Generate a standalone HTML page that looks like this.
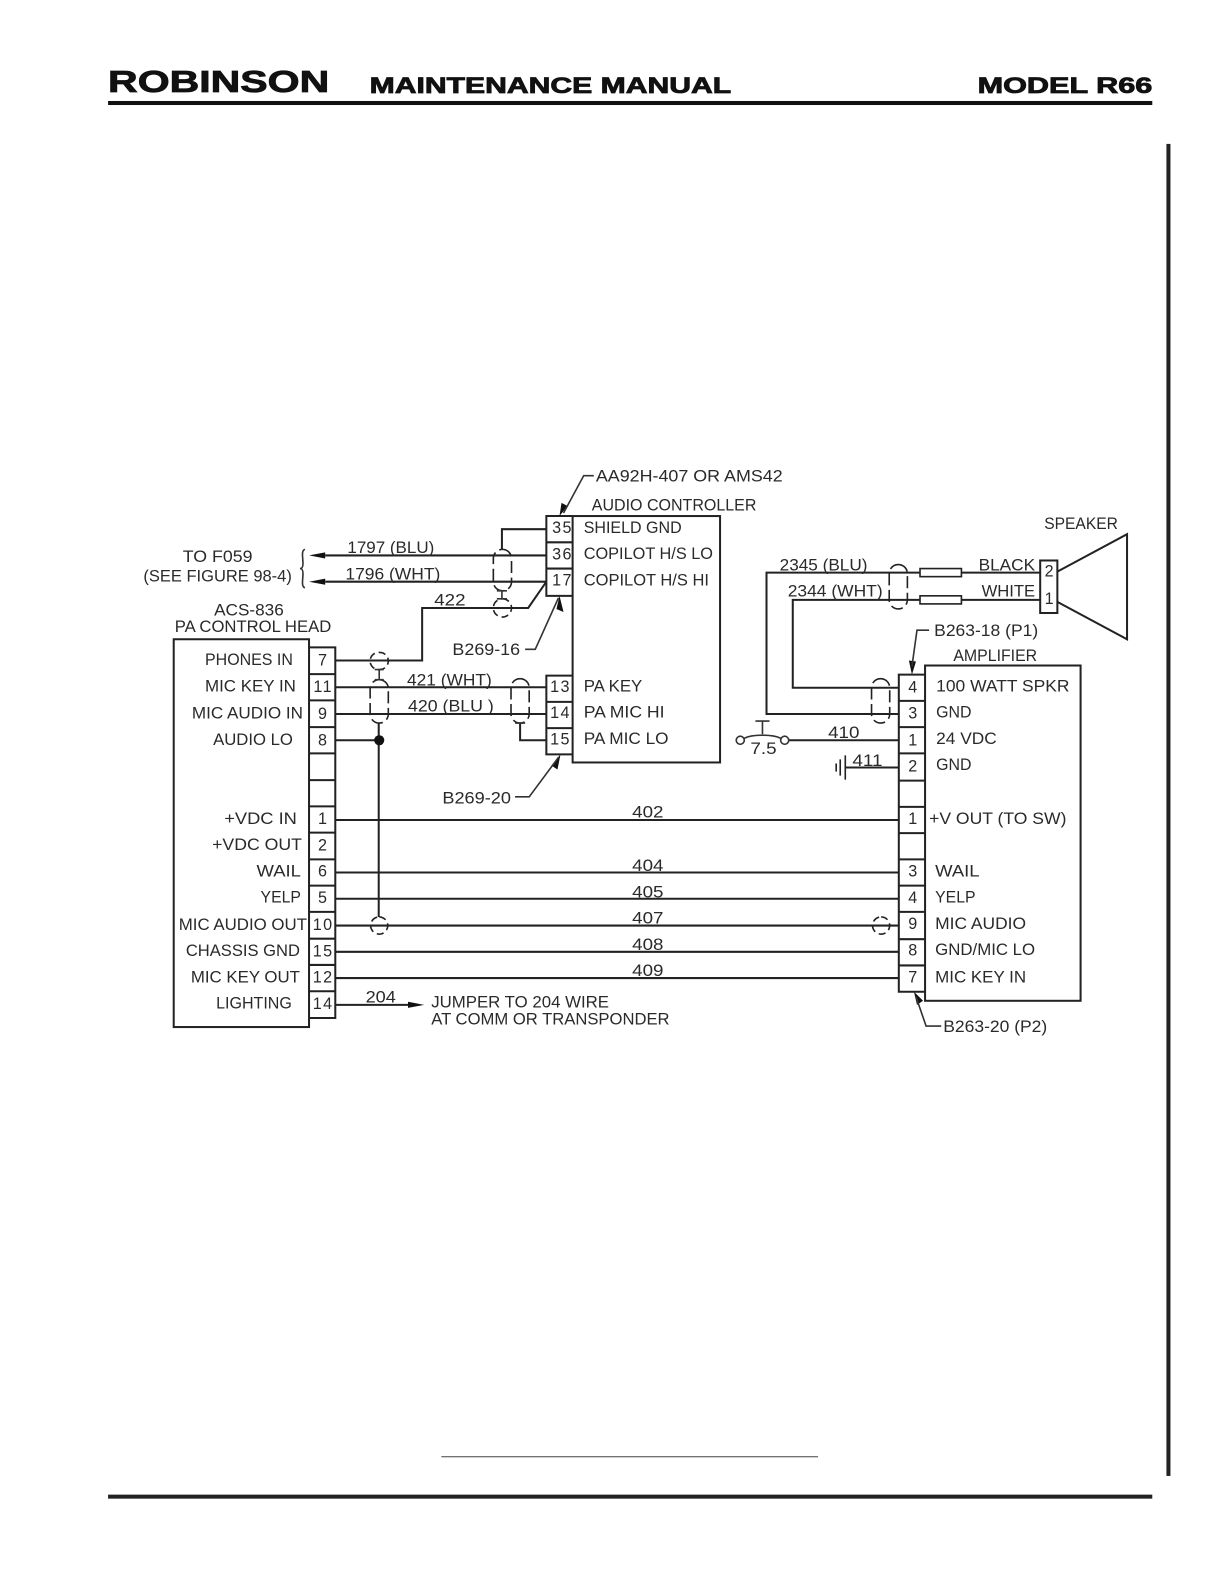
<!DOCTYPE html>
<html><head><meta charset="utf-8"><style>
html,body{margin:0;padding:0;background:#fff}
svg{display:block}
text{font-family:"Liberation Sans",sans-serif;font-size:16px;fill:#2a2a2a}
.h{font-weight:bold;fill:#111;stroke:#111;stroke-width:.8}
.n{text-anchor:middle;letter-spacing:1.4px;transform:translate(0,-.7px)}
.l{fill:none;stroke:#222;stroke-width:2}
.t{fill:none;stroke:#333;stroke-width:1.6}
.d{fill:none;stroke:#222;stroke-width:1.6;stroke-dasharray:12 4.5}
</style></head><body>
<svg width="1224" height="1584" viewBox="0 0 1212 1568.5" xmlns="http://www.w3.org/2000/svg">
<rect width="1212" height="1568.5" fill="#fff"/>
<!-- Header / page furniture -->
<text class="h" x="107" y="91" style="font-size:30px" textLength="219" lengthAdjust="spacingAndGlyphs">ROBINSON</text>
<text class="h" x="366" y="92" style="font-size:22px" textLength="358" lengthAdjust="spacingAndGlyphs">MAINTENANCE MANUAL</text>
<text class="h" x="968" y="92" style="font-size:22px" textLength="173" lengthAdjust="spacingAndGlyphs">MODEL R66</text>
<rect x="107" y="100" width="1034" height="4" fill="#111"/>
<rect x="1155" y="142.5" width="4" height="1319" fill="#222"/>
<rect x="437" y="1442" width="373" height="1" fill="#444"/>
<rect x="107" y="1480" width="1034" height="4" fill="#222"/>

<!-- Boxes -->
<g class="l">
<rect x="172" y="633" width="134" height="384"/>
<rect x="567" y="511" width="146" height="244"/>
<rect x="916" y="659" width="154" height="332"/>
<path d="M306 641H332V1008H306"/>
<path d="M306 667.5H332M306 693.5H332M306 720H332M306 746H332M306 772.5H332M306 798.5H332M306 824.5H332M306 851H332M306 877H332M306 903H332M306 929.5H332M306 955.5H332M306 981.5H332"/>
<path d="M567 511H541V590H567M541 537H567M541 563H567"/>
<path d="M567 669H541V747H567M541 695H567M541 721H567"/>
<path d="M916 668H890V982H916"/>
<path d="M890 694H916M890 720H916M890 746H916M890 773H916M890 799H916M890 825H916M890 851H916M890 877H916M890 903H916M890 930H916M890 956H916"/>
<rect x="1030" y="555" width="17" height="52"/>
<path d="M1047 566L1116 529V633L1047 596"/>
</g>

<!-- Wires -->
<g class="l">
<path d="M541 524H497V544"/>
<path d="M322 550H541M322 576H541"/>
<path d="M332 654H418V602H523L541 576"/>
<path d="M332 680.5H541M332 707H541"/>
<path d="M332 733H375M375 716V908"/>
<path d="M515 716V733H541"/>
<path d="M332 812H890M332 864H890M332 890H890M332 916.5H890M332 942.5H890M332 968.5H890"/>
<path d="M332 995H406"/>
<path d="M890 707H759V567H911M952 567H1030"/>
<path d="M890 681H785V594H911M952 594H1030"/>
<path d="M781 733H890"/>
<path d="M837 760H890"/>
<path d="M837 748V772M832 752V768" stroke-width="1.6"/>
<path d="M828 756V764" stroke-width="1.6"/>
<rect x="911" y="563" width="41" height="8" stroke-width="1.6"/>
<rect x="911" y="590" width="41" height="8" stroke-width="1.6"/>
</g>
<circle cx="375.5" cy="733" r="5" fill="#111"/>

<!-- Shields -->
<g class="d">
<rect x="488.5" y="544" width="18" height="41" rx="9"/>
<rect x="488.5" y="593" width="18" height="18" rx="9" stroke-dasharray="7 4"/>
<rect x="366.5" y="646" width="18" height="17" rx="8.5" stroke-dasharray="7 4"/>
<rect x="366.5" y="673" width="18" height="43" rx="9"/>
<rect x="506" y="672" width="18" height="44" rx="9"/>
<rect x="880.5" y="559" width="18" height="44" rx="9"/>
<rect x="863" y="672" width="18" height="44" rx="9"/>
<rect x="367" y="908" width="17" height="17" rx="8.5" stroke-dasharray="7 4"/>
<rect x="864" y="908" width="17" height="17" rx="8.5" stroke-dasharray="7 4"/>
</g>
<path class="t" d="M497 585V593M492 585H502M492 593H502M375.5 663V673M371 663H380M371 673H380M510 716H520" />

<!-- Brace -->
<path class="t" d="M302 544C298 545 300 552 300 558C300 562 299 563 297 563C299 563 300 564 300 568C300 574 298 581 302 582"/>

<!-- Arrowheads -->
<g fill="#111">
<polygon points="306,550 322,547 322,553"/>
<polygon points="306,576 322,573 322,579"/>
<polygon points="420,995 404,992 404,998"/>
<polygon points="554,511 556,498 562,501"/>
<polygon points="554,590 551,603 558,606"/>
<polygon points="555,747 546,758 552,762"/>
<polygon points="903,668 900,654 907,655"/>
<polygon points="905,982 908,995 914,991"/>
</g>

<!-- Leaders -->
<g class="t">
<path d="M588 471H578L558 508"/>
<path d="M520 643H530L553 592"/>
<path d="M510 789H524L553 750"/>
<path d="M920 624H908L903 660"/>
<path d="M932 1016H917L907 987"/>
</g>

<!-- Breaker -->
<g class="t">
<circle cx="733" cy="733" r="4"/>
<circle cx="777" cy="733" r="4"/>
<path d="M737 731C745 727 765 727 773 731M755 714V727M748 714H762"/>
</g>

<!-- Text -->
<g transform="translate(0,.7)">
<text x="590" y="476" textLength="185" lengthAdjust="spacingAndGlyphs">AA92H-407 OR AMS42</text>
<text x="586" y="505" textLength="163" lengthAdjust="spacingAndGlyphs">AUDIO CONTROLLER</text>
<text x="578" y="527" textLength="97" lengthAdjust="spacingAndGlyphs">SHIELD GND</text>
<text x="578" y="553" textLength="128" lengthAdjust="spacingAndGlyphs">COPILOT H/S LO</text>
<text x="578" y="579" textLength="124" lengthAdjust="spacingAndGlyphs">COPILOT H/S HI</text>
<text x="578" y="684" textLength="58" lengthAdjust="spacingAndGlyphs">PA KEY</text>
<text x="578" y="710" textLength="80" lengthAdjust="spacingAndGlyphs">PA MIC HI</text>
<text x="578" y="736" textLength="84" lengthAdjust="spacingAndGlyphs">PA MIC LO</text>
<text x="181" y="556" textLength="69" lengthAdjust="spacingAndGlyphs">TO F059</text>
<text x="142" y="575" textLength="147" lengthAdjust="spacingAndGlyphs">(SEE FIGURE 98-4)</text>
<text x="344" y="547" textLength="86" lengthAdjust="spacingAndGlyphs">1797 (BLU)</text>
<text x="342" y="573" textLength="94" lengthAdjust="spacingAndGlyphs">1796 (WHT)</text>
<text x="430" y="599" textLength="31" lengthAdjust="spacingAndGlyphs">422</text>
<text x="212" y="609" textLength="69" lengthAdjust="spacingAndGlyphs">ACS-836</text>
<text x="173" y="625" textLength="155" lengthAdjust="spacingAndGlyphs">PA CONTROL HEAD</text>
<text x="448" y="648" textLength="67" lengthAdjust="spacingAndGlyphs">B269-16</text>
<text x="403" y="678" textLength="84" lengthAdjust="spacingAndGlyphs">421 (WHT)</text>
<text x="404" y="704" textLength="85" lengthAdjust="spacingAndGlyphs">420 (BLU )</text>
<text x="438" y="795" textLength="68" lengthAdjust="spacingAndGlyphs">B269-20</text>
<text x="203" y="658" textLength="87" lengthAdjust="spacingAndGlyphs">PHONES IN</text>
<text x="203" y="684" textLength="90" lengthAdjust="spacingAndGlyphs">MIC KEY IN</text>
<text x="190" y="711" textLength="110" lengthAdjust="spacingAndGlyphs">MIC AUDIO IN</text>
<text x="211" y="737" textLength="79" lengthAdjust="spacingAndGlyphs">AUDIO LO</text>
<text x="222" y="815" textLength="72" lengthAdjust="spacingAndGlyphs">+VDC IN</text>
<text x="210" y="841" textLength="89" lengthAdjust="spacingAndGlyphs">+VDC OUT</text>
<text x="254" y="867" textLength="44" lengthAdjust="spacingAndGlyphs">WAIL</text>
<text x="258" y="893" textLength="40" lengthAdjust="spacingAndGlyphs">YELP</text>
<text x="177" y="920" textLength="127" lengthAdjust="spacingAndGlyphs">MIC AUDIO OUT</text>
<text x="184" y="946" textLength="113" lengthAdjust="spacingAndGlyphs">CHASSIS GND</text>
<text x="189" y="972" textLength="108" lengthAdjust="spacingAndGlyphs">MIC KEY OUT</text>
<text x="214" y="998" textLength="75" lengthAdjust="spacingAndGlyphs">LIGHTING</text>

<text class="n" x="320" y="659">7</text>
<text class="n" x="320" y="685">11</text>
<text class="n" x="320" y="712">9</text>
<text class="n" x="320" y="738">8</text>
<text class="n" x="320" y="816">1</text>
<text class="n" x="320" y="842">2</text>
<text class="n" x="320" y="868">6</text>
<text class="n" x="320" y="894">5</text>
<text class="n" x="320" y="921">10</text>
<text class="n" x="320" y="947">15</text>
<text class="n" x="320" y="973">12</text>
<text class="n" x="320" y="999">14</text>

<text class="n" x="557" y="528">35</text>
<text class="n" x="557" y="554">36</text>
<text class="n" x="557" y="580">17</text>
<text class="n" x="555" y="685">13</text>
<text class="n" x="555" y="711">14</text>
<text class="n" x="555" y="737">15</text>

<text x="626" y="809" textLength="31" lengthAdjust="spacingAndGlyphs">402</text>
<text x="626" y="862" textLength="31" lengthAdjust="spacingAndGlyphs">404</text>
<text x="626" y="888" textLength="31" lengthAdjust="spacingAndGlyphs">405</text>
<text x="626" y="914" textLength="31" lengthAdjust="spacingAndGlyphs">407</text>
<text x="626" y="940" textLength="31" lengthAdjust="spacingAndGlyphs">408</text>
<text x="626" y="966" textLength="31" lengthAdjust="spacingAndGlyphs">409</text>
<text x="362" y="992" textLength="30" lengthAdjust="spacingAndGlyphs">204</text>
<text x="427" y="997" textLength="176" lengthAdjust="spacingAndGlyphs">JUMPER TO 204 WIRE</text>
<text x="427" y="1014" textLength="236" lengthAdjust="spacingAndGlyphs">AT COMM OR TRANSPONDER</text>

<text x="1034" y="523" textLength="73" lengthAdjust="spacingAndGlyphs">SPEAKER</text>
<text x="772" y="564" textLength="87" lengthAdjust="spacingAndGlyphs">2345 (BLU)</text>
<text x="780" y="590" textLength="94" lengthAdjust="spacingAndGlyphs">2344 (WHT)</text>
<text x="969" y="564" textLength="56" lengthAdjust="spacingAndGlyphs">BLACK</text>
<text x="972" y="590" textLength="53" lengthAdjust="spacingAndGlyphs">WHITE</text>
<text class="n" x="1039.5" y="571">2</text>
<text class="n" x="1039.5" y="598">1</text>
<text x="925" y="629" textLength="103" lengthAdjust="spacingAndGlyphs">B263-18 (P1)</text>
<text x="944" y="654" textLength="83" lengthAdjust="spacingAndGlyphs">AMPLIFIER</text>
<text x="927" y="684" textLength="132" lengthAdjust="spacingAndGlyphs">100 WATT SPKR</text>
<text x="927" y="710" textLength="35" lengthAdjust="spacingAndGlyphs">GND</text>
<text x="927" y="736" textLength="60" lengthAdjust="spacingAndGlyphs">24 VDC</text>
<text x="927" y="762" textLength="35" lengthAdjust="spacingAndGlyphs">GND</text>
<text x="920" y="815" textLength="136" lengthAdjust="spacingAndGlyphs">+V OUT (TO SW)</text>
<text x="926" y="867" textLength="44" lengthAdjust="spacingAndGlyphs">WAIL</text>
<text x="926" y="893" textLength="40" lengthAdjust="spacingAndGlyphs">YELP</text>
<text x="926" y="919" textLength="90" lengthAdjust="spacingAndGlyphs">MIC AUDIO</text>
<text x="926" y="945" textLength="99" lengthAdjust="spacingAndGlyphs">GND/MIC LO</text>
<text x="926" y="972" textLength="90" lengthAdjust="spacingAndGlyphs">MIC KEY IN</text>
<text x="934" y="1021" textLength="103" lengthAdjust="spacingAndGlyphs">B263-20 (P2)</text>
<text x="820" y="730" textLength="31" lengthAdjust="spacingAndGlyphs">410</text>
<text x="844" y="758" textLength="30" lengthAdjust="spacingAndGlyphs">411</text>
<text x="743" y="746" textLength="26" lengthAdjust="spacingAndGlyphs">7.5</text>

<text class="n" x="904.5" y="685.5">4</text>
<text class="n" x="904.5" y="711.5">3</text>
<text class="n" x="904.5" y="738">1</text>
<text class="n" x="904.5" y="764">2</text>
<text class="n" x="904.5" y="816">1</text>
<text class="n" x="904.5" y="868">3</text>
<text class="n" x="904.5" y="894">4</text>
<text class="n" x="904.5" y="920">9</text>
<text class="n" x="904.5" y="946">8</text>
<text class="n" x="904.5" y="973">7</text>
</g>
</svg>
</body></html>
